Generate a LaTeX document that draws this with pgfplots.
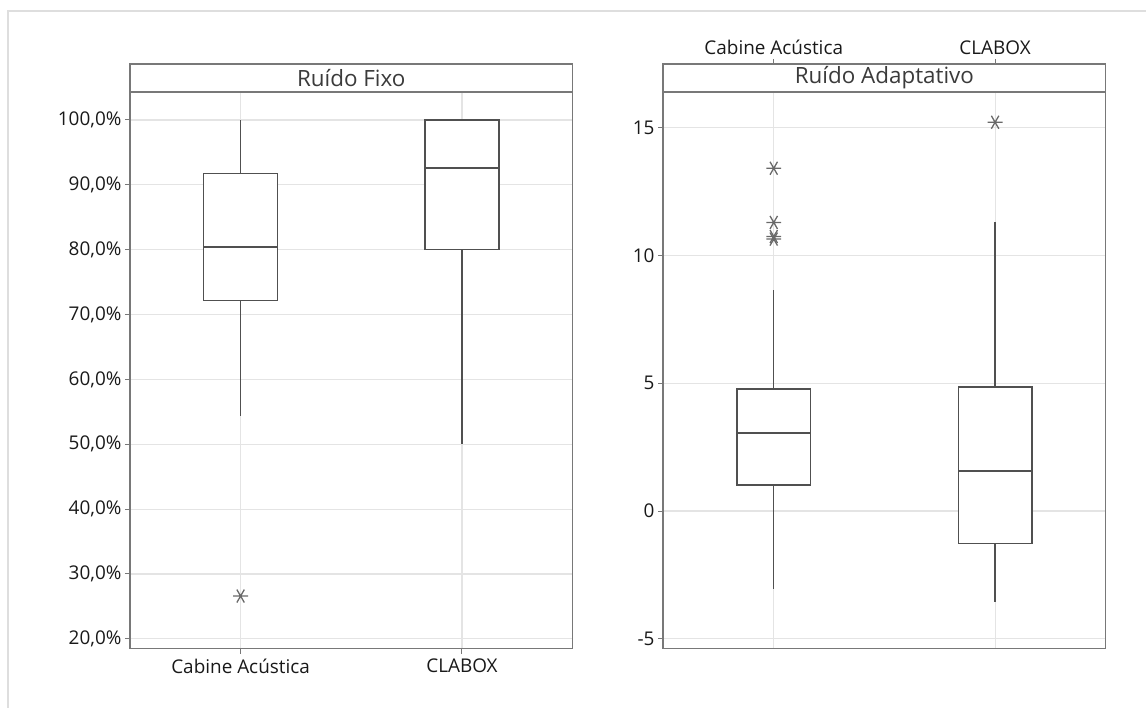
\documentclass[border=0pt]{standalone}
\usepackage{fontspec}
\setmainfont{Open Sans}
\usepackage{pgfplots}
\pgfplotsset{compat=1.18}
\usepgfplotslibrary{statistics}
\definecolor{framec}{RGB}{120,120,120}
\definecolor{boxc}{RGB}{80,80,80}
\definecolor{gridc}{RGB}{228,228,228}
\definecolor{markc}{RGB}{105,105,105}
\definecolor{outerc}{RGB}{222,222,222}
\definecolor{txtc}{RGB}{25,25,25}
\pgfplotsset{
  panel/.style={
    scale only axis, width=443bp, height=585bp, anchor=south west,
    clip=false,
    xmin=-0.5, xmax=1.5, xtick={0,1},
    xticklabels={Cabine Acústica,CLABOX},
    grid=major, major grid style={gridc, line width=1.2bp},
    axis line style={framec, line width=1.4bp},
    tick style={framec, line width=1bp},
    major tick length=5bp,
    tick align=outside,
    ytick pos=left,
    tick label style={font=\fontsize{19}{22}\selectfont, text=txtc},
    boxplot/draw direction=y,
    boxplot/box extend=0.333,
    boxplot/whisker extend=0,
    boxplot/every box/.style={fill=white},
  },
  bx/.style={boxc, line width=1.4bp, solid,
    mark=asterisk, mark size=7.5bp,
    mark options={markc, rotate=90, line width=1.3bp}},
}
\begin{document}
\begin{tikzpicture}
\path (0,0) rectangle (1147bp,-708bp);
\draw[outerc, line width=1.5bp] (8bp,-708bp) -- (8bp,-11bp) -- (1147bp,-11bp);

% ---------- left panel: Ruido Fixo ----------
\begin{axis}[panel, at={(130bp,-649bp)},
  ymin=18.5, ymax=108.63,
  ytick={20,30,...,100},
  xtick pos=left,
  xticklabel style={yshift=-2bp},
  yticklabel={\pgfmathprintnumber[fixed,fixed zerofill,precision=1,use comma,assume math mode=true]{\tick}\%},
]
\addplot[bx, boxplot prepared={draw position=0,
  lower whisker=54.4, lower quartile=72.2, median=80.4,
  upper quartile=91.7, upper whisker=100}]
  table[row sep=\\, y index=0] {26.6\\};
\addplot[bx, boxplot prepared={draw position=1,
  lower whisker=50.1, lower quartile=80.0, median=92.6,
  upper quartile=100, upper whisker=100}]
  coordinates {};
\fill[white] (axis cs:-0.5,104.31) rectangle (axis cs:1.5,108.63);
\draw[framec, line width=1.4bp] (axis cs:-0.5,104.31) rectangle (axis cs:1.5,108.63);
\node[font=\fontsize{22.5}{26}\selectfont, text=txtc!85] at (axis cs:0.5,106.47) {Ruído Fixo};
\end{axis}

% ---------- right panel: Ruido Adaptativo ----------
\begin{axis}[panel, at={(663.5bp,-649bp)},
  ymin=-5.38, ymax=17.49,
  ytick={-5,0,5,10,15},
  xtick pos=right,
  xticklabel style={yshift=1bp},
  yticklabel={\pgfmathprintnumber[assume math mode=true]{\tick}},
]
\addplot[bx, boxplot prepared={draw position=0,
  lower whisker=-3.03, lower quartile=1.02, median=3.05,
  upper quartile=4.77, upper whisker=8.65}]
  table[row sep=\\, y index=0] {13.41\\ 11.29\\ 10.74\\ 10.64\\};
\addplot[bx, boxplot prepared={draw position=1,
  lower whisker=-3.56, lower quartile=-1.26, median=1.56,
  upper quartile=4.85, upper whisker=11.32}]
  table[row sep=\\, y index=0] {15.21\\};
\fill[white] (axis cs:-0.5,16.40) rectangle (axis cs:1.5,17.49);
\draw[framec, line width=1.4bp] (axis cs:-0.5,16.40) rectangle (axis cs:1.5,17.49);
\node[font=\fontsize{22.5}{26}\selectfont, text=txtc!85] at (axis cs:0.5,16.945) {Ruído Adaptativo};
\end{axis}
\end{tikzpicture}
\end{document}
